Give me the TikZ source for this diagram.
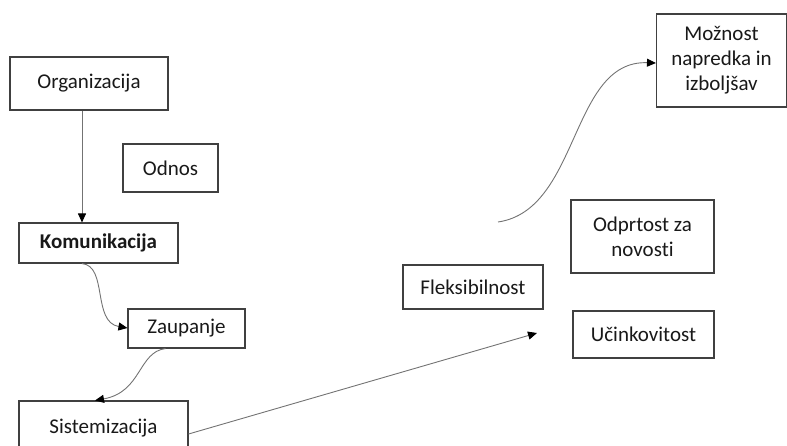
\documentclass[tikz,border=0pt]{standalone}
\usepackage{fontspec}
\setmainfont{Carlito}[Ligatures=NoCommon]
\usetikzlibrary{arrows.meta}
\begin{document}
\begin{tikzpicture}[x=1pt,y=-1pt,
  box/.style={draw=black!75,line width=1.1pt,fill=white,inner sep=0pt,align=center,
    font=\fontsize{21}{25}\selectfont,text=black!90},
  conn/.style={draw=black!55,line width=0.9pt,-{Triangle[length=9pt,width=8pt,color=black]}}]
\useasboundingbox (0,0) rectangle (787,445);
\node[box,minimum width=158pt,minimum height=53pt] (org) at (89,83.5) {Organizacija};
\node[box,minimum width=95pt,minimum height=48pt] (odnos) at (170.5,168) {Odnos};
\node[box,minimum width=159pt,minimum height=40pt,font=\fontsize{21}{25}\selectfont\bfseries] (kom) at (98.5,243) {Komunikacija};
\node[box,minimum width=117pt,minimum height=39pt] (zaup) at (186.5,328.5) {Zaupanje};
\node[box,minimum width=169pt,minimum height=54pt] (sist) at (103.5,428) {Sistemizacija};
\node[box,minimum width=140pt,minimum height=44pt] (flek) at (473,287) {Fleksibilnost};
\node[box,minimum width=143pt,minimum height=73pt] (odpr) at (642.5,236.5) {Odprtost za\\novosti};
\node[box,minimum width=141pt,minimum height=47pt] (ucin) at (643.5,334.5) {Učinkovitost};
\node[box,minimum width=130pt,minimum height=93pt] (mozn) at (721.5,60.5) {Možnost\\napredka in\\izboljšav};
\coordinate (tipS) at (537,333);
\coordinate (startM) at (498,222);
\draw[conn] ([xshift=-7pt]org.south) -- ([xshift=-16.5pt]kom.north);
\draw[conn] ([xshift=-16.5pt]kom.south) .. controls (108,266) and (92,322) .. ([yshift=0.5pt]zaup.west);
\draw[conn] ([xshift=-21pt]zaup.south) .. controls (138,352) and (142,392) .. (sist.north west -| 95,0);
\draw[conn] ([yshift=-6pt]sist.east) -- (tipS);
\draw[conn] (startM) .. controls (580,210) and (570,60) .. ([yshift=-2.5pt]mozn.west);
\end{tikzpicture}
\end{document}
